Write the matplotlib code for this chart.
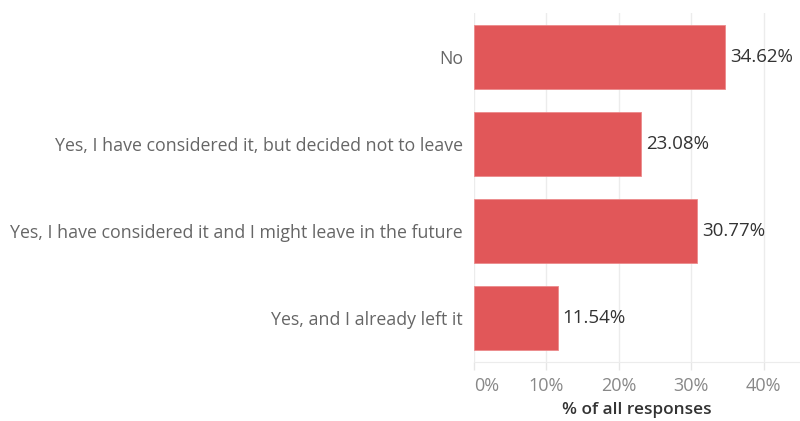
import matplotlib
matplotlib.use("Agg")
import matplotlib.pyplot as plt
from matplotlib.ticker import FuncFormatter

categories = [
    "No",
    "Yes, I have considered it, but decided not to leave",
    "Yes, I have considered it and I might leave in the future",
    "Yes, and I already left it",
]
shares = [34.62, 23.08, 30.77, 11.54]
x_ticks = [0, 10, 20, 30, 40]

plt.rcParams["font.family"] = ["Open Sans", "DejaVu Sans"]

fig = plt.figure(figsize=(8, 4.21), dpi=100)
ax = fig.add_axes([0.5925, 0.141, 0.4075, 0.827])

ypos = list(range(len(categories)))
ax.barh(ypos, shares, height=0.74, color="#e15759", edgecolor="#ec8a8b",
        linewidth=0.6, zorder=3)
for y, v in zip(ypos, shares):
    ax.text(v + 0.7, y, f"{v:.2f}%", va="center", ha="left",
            fontsize=13.5, color="#333333")

ax.set_ylim(len(categories) - 0.5, -0.5)
ax.set_xlim(0, 45)
ax.set_yticks(ypos)
ax.set_yticklabels(categories, fontsize=12.8, color="#666666")
ax.set_xticks(x_ticks)
ax.xaxis.set_major_formatter(FuncFormatter(lambda v, p: f"{v:.0f}%"))
ax.tick_params(axis="x", colors="#e6e6e6", labelcolor="#888888",
               labelsize=13, length=6, width=1, pad=5)
ax.tick_params(axis="y", length=0, pad=8)
ax.set_xlabel("% of all responses", fontsize=12.4, color="#333333",
              fontweight="semibold", labelpad=5)
ax.grid(axis="x", color="#ececec", linewidth=1, zorder=0)
for side in ["top", "right", "left"]:
    ax.spines[side].set_visible(False)
ax.spines["bottom"].set_color("#ececec")

# shift the 0% label slightly right
ax.get_xticklabels()[0].set_horizontalalignment("left")
ax.get_xticklabels()[0].set_x(0.4)

fig.savefig("out.png", dpi=100)
